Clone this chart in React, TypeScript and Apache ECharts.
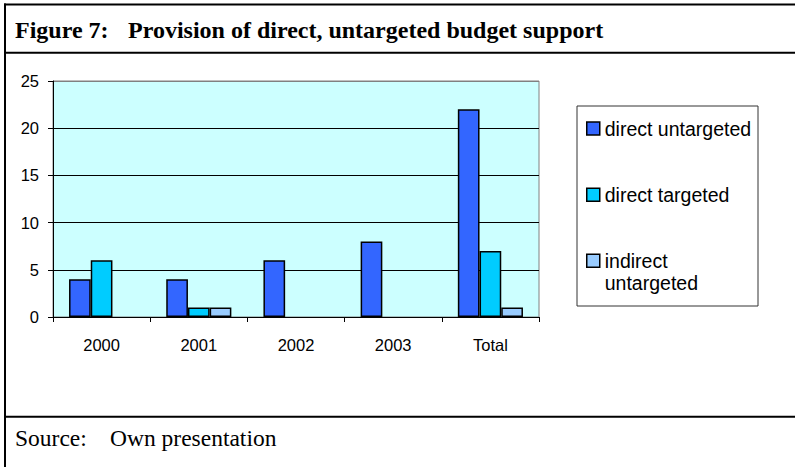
import React, { useEffect, useRef } from "react";
import * as echarts from "echarts";

const categories = ["2000", "2001", "2002", "2003", "Total"];
const directUntargeted = [4, 4, 6, 8, 22];
const directTargeted = [6, 1, 0, 0, 7];
const indirectUntargeted = [0, 1, 0, 0, 1];
const seriesNames = ["direct untargeted", "direct targeted", "indirect untargeted"];
const seriesColors = ["#3366FF", "#00CCFF", "#99CCFF"];
const yTicks = { min: 0, max: 25, interval: 5 };

const SANS = 'Arial, "Liberation Sans", sans-serif';
const SERIF = '"Times New Roman", "Liberation Serif", serif';

export default function App() {
  const ref = useRef<HTMLDivElement>(null);
  useEffect(() => {
    if (!ref.current) return;
    const chart = echarts.init(ref.current, null, { renderer: "svg" });
    const values = [directUntargeted, directTargeted, indirectUntargeted];
    const legendBase = {
      orient: "vertical" as const,
      padding: 0,
      left: 586,
      itemWidth: 13,
      itemHeight: 13,
      itemGap: 0,
      icon: "rect",
      selectedMode: false,
      itemStyle: { borderColor: "#000", borderWidth: 1.5 },
      textStyle: { fontFamily: SANS, fontSize: 19.5, lineHeight: 22, color: "#000" },
    };
    chart.setOption({
      animation: false,
      backgroundColor: "#fff",
      grid: {
        left: 53,
        right: 259,
        top: 81,
        bottom: 150,
        show: true,
        backgroundColor: "#CCFFFF",
        borderColor: "#808080",
        borderWidth: 1,
      },
      legend: [
        { ...legendBase, top: 117.5, data: [seriesNames[0]] },
        { ...legendBase, top: 183.7, data: [seriesNames[1]] },
        {
          ...legendBase,
          top: 227.8,
          data: [seriesNames[2]],
          formatter: (n: string) => "\n" + n.replace(" ", "\n"),
        },
      ],
      xAxis: {
        type: "category",
        data: categories,
        axisLine: { show: true, lineStyle: { color: "#000", width: 1 } },
        axisTick: { show: true, length: 5, alignWithLabel: false, lineStyle: { color: "#000" } },
        axisLabel: { fontFamily: SANS, fontSize: 16.5, color: "#000", margin: 19 },
        z: 5,
      },
      yAxis: {
        type: "value",
        min: yTicks.min,
        max: yTicks.max,
        interval: yTicks.interval,
        axisLine: { show: true, lineStyle: { color: "#000", width: 1 } },
        axisTick: { show: true, length: 5, lineStyle: { color: "#000" } },
        axisLabel: { fontFamily: SANS, fontSize: 16.5, color: "#000", margin: 14 },
        splitLine: {
          show: true,
          lineStyle: { color: ["#000", "#000", "#000", "#000", "#000", "#808080"], width: 1 },
        },
      },
      series: seriesNames.map((name, i) => ({
        name,
        type: "bar",
        data: values[i].map((v) => (v === 0 ? null : v)),
        barGap: "0%",
        barCategoryGap: "33%",
        itemStyle: { color: seriesColors[i], borderColor: "#000", borderWidth: 1.5 },
      })),
      graphic: [
        { type: "line", shape: { x1: 4, y1: 4.5, x2: 795, y2: 4.5 }, style: { stroke: "#000", lineWidth: 2 } },
        { type: "line", shape: { x1: 4, y1: 52.7, x2: 795, y2: 52.7 }, style: { stroke: "#000", lineWidth: 2 } },
        { type: "line", shape: { x1: 4, y1: 416.7, x2: 795, y2: 416.7 }, style: { stroke: "#000", lineWidth: 2 } },
        { type: "line", shape: { x1: 5, y1: 3.5, x2: 5, y2: 467 }, style: { stroke: "#000", lineWidth: 2 } },
        {
          type: "text",
          x: 15,
          y: 29.8,
          style: { text: "Figure 7:", font: `bold 24px ${SERIF}`, fill: "#000", verticalAlign: "middle" },
        },
        {
          type: "text",
          x: 128,
          y: 29.8,
          style: {
            text: "Provision of direct, untargeted budget support",
            font: `bold 24px ${SERIF}`,
            fill: "#000",
            verticalAlign: "middle",
          },
        },
        {
          type: "text",
          x: 15,
          y: 438,
          style: { text: "Source:", font: `23.5px ${SERIF}`, fill: "#000", verticalAlign: "middle" },
        },
        {
          type: "text",
          x: 110,
          y: 438,
          style: { text: "Own presentation", font: `23.5px ${SERIF}`, fill: "#000", verticalAlign: "middle" },
        },
        {
          type: "rect",
          shape: { x: 577, y: 106, width: 181, height: 200 },
          style: { fill: "none", stroke: "#333", lineWidth: 1 },
          z: -1,
        },
      ],
    });
    return () => chart.dispose();
  }, []);
  return (
    <div
      ref={ref}
      style={{ position: "fixed", left: 0, top: 0, width: 798, height: 467 }}
    />
  );
}
